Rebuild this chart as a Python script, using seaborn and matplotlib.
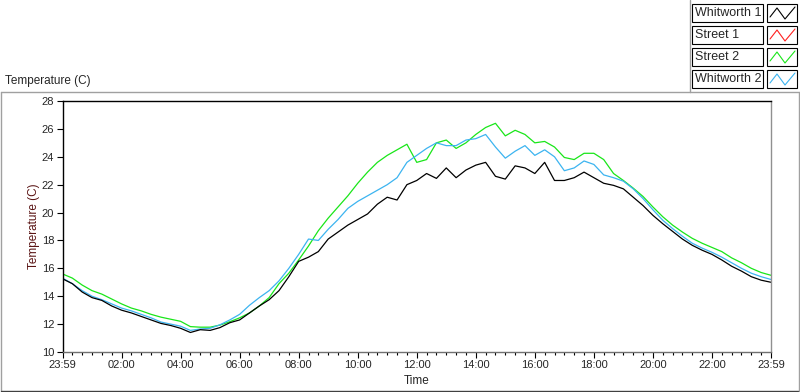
import numpy as np
import pandas as pd
import matplotlib.pyplot as plt
import seaborn as sns
from matplotlib.lines import Line2D
from matplotlib.patches import Rectangle
from matplotlib.ticker import MultipleLocator

# samples every 20 minutes, starting at 23:59
minutes = np.arange(0, 1441, 20)

whitworth_1 = [
    15.25, 14.9, 14.3, 13.9, 13.7, 13.3, 13.0, 12.8, 12.55, 12.3, 12.05, 11.9,
    11.7, 11.4, 11.6, 11.55, 11.75, 12.1, 12.3, 12.8, 13.3, 13.75, 14.4, 15.4,
    16.5, 16.8, 17.2, 18.1, 18.6, 19.1, 19.5, 19.9, 20.6, 21.1, 20.9, 22.0,
    22.3, 22.8, 22.45, 23.2, 22.5, 23.05, 23.4, 23.6, 22.6, 22.4, 23.35, 23.2,
    22.8, 23.6, 22.3, 22.3, 22.5, 22.9, 22.5, 22.1, 21.95, 21.7, 21.1, 20.5,
    19.8, 19.2, 18.65, 18.1, 17.65, 17.3, 17.0, 16.6, 16.15, 15.8, 15.4, 15.15,
    15.0,
]
street_1 = [np.nan] * len(minutes)
street_2 = [
    15.6, 15.3, 14.8, 14.4, 14.15, 13.8, 13.45, 13.15, 12.95, 12.7, 12.5, 12.35,
    12.2, 11.82, 11.78, 11.78, 11.93, 12.17, 12.45, 12.8, 13.3, 13.9, 14.9, 15.65,
    16.6, 17.6, 18.7, 19.6, 20.4, 21.2, 22.1, 22.9, 23.6, 24.1, 24.5, 24.9,
    23.6, 23.8, 25.0, 25.2, 24.6, 25.0, 25.6, 26.1, 26.4, 25.5, 25.9, 25.6,
    25.0, 25.1, 24.7, 23.95, 23.8, 24.25, 24.25, 23.8, 22.8, 22.3, 21.75, 21.15,
    20.4, 19.7, 19.1, 18.6, 18.15, 17.8, 17.5, 17.2, 16.75, 16.4, 16.0, 15.7,
    15.5,
]
whitworth_2 = [
    15.3, 14.9, 14.4, 14.0, 13.75, 13.45, 13.15, 12.95, 12.7, 12.45, 12.15, 12.0,
    11.85, 11.55, 11.65, 11.7, 11.95, 12.3, 12.7, 13.35, 13.9, 14.4, 15.1, 16.0,
    17.0, 18.1, 18.0, 18.8, 19.5, 20.3, 20.8, 21.2, 21.6, 22.0, 22.5, 23.6,
    24.1, 24.6, 25.0, 24.8, 24.8, 25.2, 25.3, 25.6, 24.7, 23.9, 24.4, 24.8,
    24.1, 24.5, 24.0, 23.0, 23.2, 23.7, 23.45, 22.7, 22.5, 22.25, 21.7, 21.0,
    20.2, 19.45, 18.85, 18.3, 17.8, 17.45, 17.15, 16.8, 16.4, 16.0, 15.65, 15.4,
    15.2,
]

series_names = ["Whitworth 1", "Street 1", "Street 2", "Whitworth 2"]
series_colors = ["#000000", "#ff2020", "#19e619", "#3cb4f0"]
tick_labels = ["23:59", "02:00", "04:00", "06:00", "08:00", "10:00", "12:00",
               "14:00", "16:00", "18:00", "20:00", "22:00", "23:59"]

df = pd.DataFrame({
    "hours": np.tile(minutes / 60, 4),
    "temp": np.concatenate([whitworth_1, street_1, street_2, whitworth_2]),
    "series": np.repeat(series_names, len(minutes)),
})

sns.set_style("white")
plt.rcParams["font.family"] = ["Liberation Sans", "DejaVu Sans"]

W, H = 800, 392
fig = plt.figure(figsize=(W / 100, H / 100), dpi=100)


def fx(x):
    return x / W


def fy(y):
    return 1 - y / H


ax = fig.add_axes([fx(62.5), fy(352), fx(771) - fx(62.5), fy(101) - fy(352)])

palette = dict(zip(series_names, series_colors))
sns.lineplot(data=df.dropna(), x="hours", y="temp", hue="series",
             hue_order=["Street 2", "Whitworth 2", "Whitworth 1"],
             palette=palette, linewidth=0.9, legend=False, ax=ax)

ax.set_xlim(0, 24)
ax.set_ylim(10, 28)
ax.set_xticks(range(0, 25, 2))
ax.set_xticklabels(tick_labels)
ax.xaxis.set_minor_locator(MultipleLocator(1 / 3))
ax.set_yticks(range(10, 29, 2))
ax.tick_params(axis="both", which="major", direction="out", length=4,
               width=0.8, color="black", labelsize=8, pad=2, bottom=True, left=True)
ax.tick_params(axis="x", which="minor", direction="out", length=2,
               width=0.8, color="black", bottom=True)
ax.set_xlabel("Time", fontsize=8.5, labelpad=3)
ax.set_ylabel("Temperature (C)", fontsize=8.5, color="#5a1414", labelpad=1)

for side, col in [("left", "black"), ("top", "black"),
                  ("right", "#909090"), ("bottom", "#707070")]:
    ax.spines[side].set_visible(True)
    ax.spines[side].set_color(col)
    ax.spines[side].set_linewidth(1.0)

# chart caption and outer panel frame
fig.text(fx(5), fy(81), "Temperature (C)", fontsize=8.5, va="center", ha="left")
frame = [((0.5, 92), (690, 92)), ((690, 92), (690, 0)), ((690, 92), (799, 92)),
         ((0.5, 92), (0.5, 391)), ((0.5, 390.5), (799, 390.5)),
         ((798.5, 92), (798.5, 391))]
for (x0, y0), (x1, y1) in frame:
    fig.add_artist(Line2D([fx(x0), fx(x1)], [fy(y0), fy(y1)],
                          color="#a0a0a0" if y0 != 390.5 else "#404040",
                          linewidth=1.0, transform=fig.transFigure))

# LabVIEW-style plot legend
for i, (name, col) in enumerate(zip(series_names, series_colors)):
    top = 4 + 22 * i
    fig.add_artist(Rectangle((fx(692), fy(top + 18)), fx(763) - fx(692),
                             fy(top) - fy(top + 18), facecolor="white",
                             edgecolor="black", linewidth=0.8,
                             transform=fig.transFigure))
    fig.text(fx(695), fy(top + 9.5), name, fontsize=9, va="center", ha="left")
    fig.add_artist(Rectangle((fx(767), fy(top + 18)), fx(797) - fx(767),
                             fy(top) - fy(top + 18), facecolor="white",
                             edgecolor="black", linewidth=0.8,
                             transform=fig.transFigure))
    zx = [770, 777, 785, 795]
    zy = [top + 13, top + 4, top + 15, top + 3]
    fig.add_artist(Line2D([fx(v) for v in zx], [fy(v) for v in zy], color=col,
                          linewidth=0.8, transform=fig.transFigure))

fig.savefig("out.png", dpi=100)
